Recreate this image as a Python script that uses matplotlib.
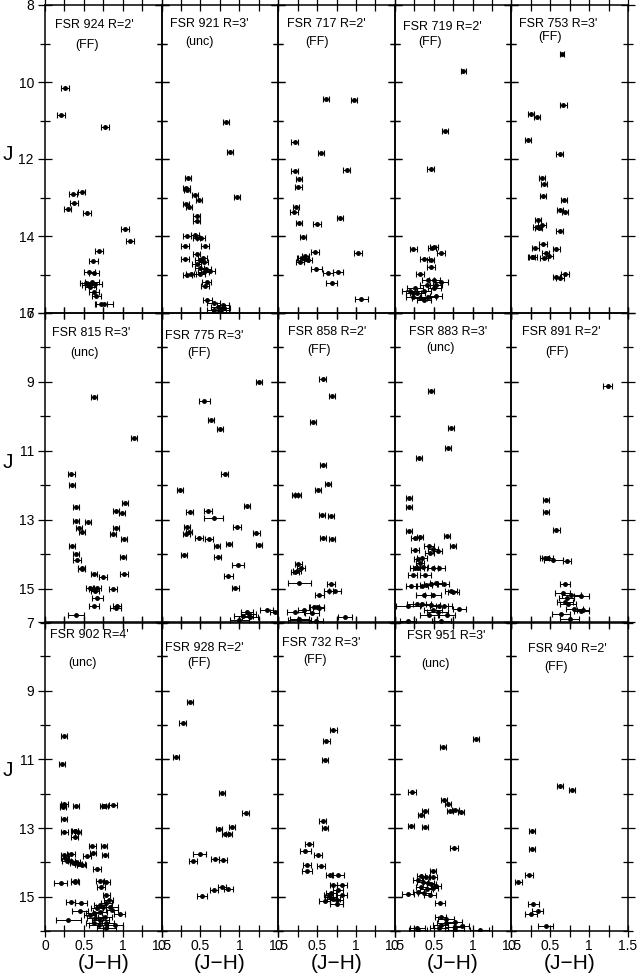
import matplotlib
matplotlib.use("Agg")
import matplotlib.pyplot as plt

plt.rcParams["font.family"] = ["Liberation Sans", "DejaVu Sans"]

# (J-H, J, error on J-H), one list per cluster
stars_924 = [
    (0.26, 10.16, .05), (0.21, 10.87, .05), (0.77, 11.18, .05), (0.47, 12.85, .05), (0.36, 12.92, .05),
    (0.37, 13.15, .05), (0.29, 13.30, .05), (0.54, 13.39, .05), (1.03, 13.83, .05), (1.09, 14.12, .05),
    (0.69, 14.40, .05), (0.62, 14.64, .06), (0.57, 14.93, .07), (0.63, 14.95, .07), (0.53, 15.22, .08),
    (0.60, 15.20, .09), (0.55, 15.28, .08), (0.64, 15.25, .09), (0.58, 15.32, .07), (0.63, 15.46, .06),
    (0.66, 15.55, .06), (0.76, 15.77, .11), (0.72, 15.76, .08)]

stars_921 = [
    (0.83, 11.05, .04), (0.88, 11.82, .04), (0.97, 12.98, .04), (0.34, 12.49, .04), (0.32, 12.76, .04),
    (0.33, 12.80, .04), (0.43, 12.94, .04), (0.48, 13.06, .04), (0.31, 13.17, .04), (0.35, 13.24, .04),
    (0.45, 13.47, .04), (0.45, 13.60, .04), (0.33, 14.00, .05), (0.43, 13.98, .05), (0.45, 14.06, .05),
    (0.51, 14.06, .05), (0.30, 14.26, .05), (0.56, 14.26, .05), (0.45, 14.47, .05), (0.30, 14.60, .05),
    (0.49, 14.62, .06), (0.53, 14.58, .06), (0.54, 14.68, .06), (0.45, 14.72, .06), (0.49, 14.84, .06),
    (0.57, 14.86, .06), (0.62, 14.92, .07), (0.33, 15.01, .06), (0.38, 14.98, .06), (0.49, 14.98, .07),
    (0.54, 14.93, .07), (0.58, 15.19, .06), (0.56, 15.30, .05), (0.59, 15.65, .06), (0.67, 15.74, .08),
    (0.73, 15.84, .09), (0.79, 15.80, .08), (0.77, 15.93, .10), (0.68, 15.93, .10), (0.74, 15.97, .09),
    (0.80, 15.88, .08)]

stars_717 = [
    (0.61, 10.43, .04), (0.98, 10.46, .04), (0.21, 11.57, .04), (0.55, 11.85, .04), (0.88, 12.29, .04),
    (0.21, 12.31, .04), (0.27, 12.51, .04), (0.26, 12.72, .04), (0.23, 13.24, .04), (0.20, 13.38, .05),
    (0.80, 13.54, .04), (0.27, 13.65, .04), (0.50, 13.68, .05), (0.32, 14.03, .04), (0.47, 14.41, .05),
    (1.03, 14.45, .05), (0.35, 14.52, .05), (0.30, 14.58, .06), (0.34, 14.60, .06), (0.28, 14.68, .05),
    (0.38, 14.63, .05), (0.32, 14.56, .06), (0.49, 14.86, .07), (0.64, 14.95, .06), (0.77, 14.93, .06),
    (0.69, 15.22, .07), (1.07, 15.64, .08)]

stars_719 = [
    (0.88, 9.71, .03), (0.65, 11.26, .04), (0.46, 12.25, .04), (0.24, 14.33, .05), (0.48, 14.32, .05),
    (0.50, 14.28, .05), (0.59, 14.45, .05), (0.38, 14.61, .06), (0.46, 14.62, .05), (0.47, 14.80, .05),
    (0.32, 14.98, .05), (0.43, 15.14, .08), (0.51, 15.14, .07), (0.60, 15.19, .08), (0.53, 15.27, .08),
    (0.41, 15.27, .08), (0.26, 15.36, .10), (0.51, 15.36, .08), (0.24, 15.47, .10), (0.29, 15.49, .10),
    (0.38, 15.44, .09), (0.19, 15.42, .10), (0.32, 15.60, .10), (0.38, 15.65, .09), (0.43, 15.59, .10),
    (0.53, 15.56, .08), (0.24, 15.58, .10)]

stars_753 = [
    (0.65, 9.28, .03), (0.67, 10.61, .04), (0.25, 10.83, .04), (0.33, 10.92, .04), (0.21, 11.51, .04),
    (0.62, 11.88, .04), (0.39, 12.49, .04), (0.42, 12.65, .04), (0.41, 12.95, .04), (0.68, 13.06, .04),
    (0.63, 13.33, .04), (0.69, 13.38, .04), (0.34, 13.58, .04), (0.33, 13.76, .05), (0.39, 13.72, .05),
    (0.35, 13.80, .05), (0.62, 13.88, .04), (0.31, 14.30, .05), (0.41, 14.22, .05), (0.58, 14.35, .05),
    (0.26, 14.55, .05), (0.28, 14.54, .05), (0.42, 14.58, .05), (0.44, 14.45, .05), (0.49, 14.52, .05),
    (0.58, 15.06, .05), (0.63, 15.10, .05), (0.69, 14.99, .05)]

stars_815 = [
    (0.63, 9.44, .04), (1.14, 10.62, .04), (0.34, 11.67, .04), (0.35, 11.98, .04), (0.40, 12.63, .04),
    (1.03, 12.52, .04), (0.91, 12.74, .04), (0.99, 12.82, .04), (0.40, 13.03, .04), (0.55, 13.08, .04),
    (0.44, 13.25, .04), (0.91, 13.25, .04), (0.48, 13.37, .04), (0.87, 13.43, .04), (1.02, 13.57, .04),
    (0.35, 13.77, .04), (0.40, 14.01, .04), (0.41, 14.16, .05), (1.00, 14.07, .04), (0.47, 14.40, .04),
    (0.47, 14.44, .04), (0.63, 14.57, .04), (1.02, 14.57, .05), (0.75, 14.66, .05), (0.58, 14.97, .05),
    (0.62, 15.00, .05), (0.67, 14.98, .05), (0.64, 15.07, .05), (0.87, 15.02, .05), (0.67, 15.27, .07),
    (0.63, 15.51, .06), (0.91, 15.57, .07), (0.93, 15.52, .05), (0.40, 15.77, .10)]

stars_775 = [
    (1.25, 8.99, .04), (0.55, 9.55, .07), (0.64, 10.12, .04), (0.75, 10.36, .04), (0.81, 11.67, .04),
    (0.24, 12.14, .04), (1.10, 12.60, .04), (0.36, 12.78, .04), (0.60, 12.75, .05), (0.67, 12.95, .12),
    (0.97, 13.20, .05), (0.33, 13.22, .04), (0.35, 13.36, .04), (0.32, 13.41, .04), (1.22, 13.40, .04),
    (0.48, 13.53, .05), (0.61, 13.56, .05), (0.71, 13.76, .04), (0.87, 13.72, .04), (1.25, 13.74, .04),
    (0.29, 14.04, .04), (0.72, 14.08, .05), (0.98, 14.32, .08), (0.86, 14.64, .06), (0.95, 14.97, .05),
    (1.10, 15.69, .08), (1.12, 15.75, .10), (1.05, 15.80, .12), (1.14, 15.82, .10), (1.00, 15.90, .12),
    (1.35, 15.62, .08), (1.46, 15.67, .06)]

stars_858 = [
    (0.57, 8.91, .04), (0.69, 9.41, .04), (0.45, 10.16, .04), (0.58, 11.41, .04), (0.64, 11.96, .04),
    (0.51, 12.13, .04), (0.22, 12.28, .04), (0.25, 12.28, .04), (0.56, 12.85, .04), (0.68, 12.89, .04),
    (0.58, 13.53, .04), (0.69, 13.55, .04), (0.26, 14.29, .04), (0.29, 14.40, .05), (0.24, 14.49, .05),
    (0.22, 14.52, .05), (0.27, 14.83, .15), (0.68, 14.87, .05), (0.65, 15.06, .06), (0.73, 15.06, .08),
    (0.53, 15.20, .06), (0.50, 15.54, .09), (0.52, 15.55, .07), (0.46, 15.53, .07), (0.33, 15.63, .08),
    (0.22, 15.68, .11), (0.44, 15.70, .09), (0.86, 15.83, .09), (0.27, 15.87, .12), (0.27, 15.92, .15),
    (0.49, 15.95, .09)]

stars_883 = [
    (0.47, 9.25, .04), (0.72, 10.33, .04), (0.68, 10.91, .04), (0.31, 11.22, .04), (0.18, 12.36, .04),
    (0.18, 12.62, .04), (0.18, 13.32, .04), (0.26, 13.52, .05), (0.32, 13.50, .04), (0.67, 13.48, .04),
    (0.75, 13.76, .04), (0.44, 13.77, .06), (0.49, 13.84, .06), (0.45, 13.96, .06), (0.55, 13.91, .06),
    (0.26, 13.87, .05), (0.30, 14.15, .05), (0.32, 14.27, .05), (0.35, 14.12, .06), (0.26, 14.41, .06),
    (0.30, 14.40, .07), (0.36, 14.38, .07), (0.49, 14.40, .07), (0.57, 14.41, .07), (0.23, 14.62, .06),
    (0.39, 14.60, .07), (0.21, 14.92, .07), (0.35, 14.92, .08), (0.40, 14.90, .08), (0.46, 14.86, .08),
    (0.53, 14.84, .08), (0.63, 14.86, .07), (0.72, 15.07, .08), (0.75, 15.09, .07), (0.37, 15.19, .10),
    (0.49, 15.19, .10), (0.17, 15.50, .15), (0.28, 15.46, .12), (0.35, 15.44, .12), (0.46, 15.49, .12),
    (0.57, 15.52, .12), (0.63, 15.51, .10), (0.83, 15.60, .08), (0.49, 15.62, .12), (0.55, 15.67, .13),
    (0.67, 15.77, .10), (0.44, 15.77, .12), (0.60, 15.93, .12), (0.17, 15.94, .10)]

stars_891 = [
    (1.24, 9.12, .06), (0.45, 12.43, .04), (0.45, 12.77, .04), (0.58, 13.30, .04), (0.43, 14.10, .06),
    (0.47, 14.12, .07), (0.54, 14.17, .12), (0.72, 14.19, .05), (0.69, 14.86, .06), (0.66, 15.12, .10),
    (0.77, 15.19, .12), (0.90, 15.22, .10), (0.71, 15.27, .10), (0.69, 15.38, .10), (0.73, 15.45, .10),
    (0.81, 15.58, .11), (0.90, 15.64, .10), (0.92, 15.62, .08), (0.64, 15.74, .12), (0.75, 15.87, .12)]

stars_902 = [
    (0.24, 10.31, .04), (0.22, 11.15, .04), (0.25, 12.30, .04), (0.23, 12.35, .04), (0.23, 12.38, .04),
    (0.40, 12.36, .04), (0.75, 12.35, .04), (0.77, 12.37, .04), (0.87, 12.34, .05), (0.24, 12.75, .04),
    (0.25, 13.13, .05), (0.39, 13.08, .04), (0.42, 13.12, .04), (0.38, 13.10, .04), (0.38, 13.27, .04),
    (0.61, 13.51, .04), (0.76, 13.53, .04), (0.62, 13.72, .04), (0.33, 13.77, .05), (0.25, 13.80, .05),
    (0.26, 13.86, .05), (0.77, 13.79, .04), (0.54, 13.83, .05), (0.28, 13.97, .06), (0.34, 13.96, .05),
    (0.40, 13.99, .05), (0.45, 14.06, .06), (0.47, 14.09, .06), (0.43, 14.04, .05), (0.37, 14.02, .05),
    (0.67, 14.20, .05), (0.38, 14.53, .05), (0.39, 14.58, .05), (0.71, 14.53, .05), (0.79, 14.56, .05),
    (0.20, 14.61, .08), (0.72, 14.73, .05), (0.79, 14.94, .05), (0.82, 15.10, .06), (0.33, 15.15, .06),
    (0.46, 15.19, .08), (0.45, 15.41, .10), (0.71, 15.24, .08), (0.75, 15.29, .10), (0.84, 15.31, .10),
    (0.79, 15.19, .07), (0.67, 15.34, .08), (0.63, 15.49, .10), (0.71, 15.44, .09), (0.58, 15.53, .08),
    (0.64, 15.63, .10), (0.71, 15.68, .11), (0.77, 15.58, .09), (0.79, 15.78, .10), (0.69, 15.83, .12),
    (0.63, 15.78, .10), (0.79, 15.92, .12), (0.90, 15.83, .10), (0.96, 15.51, .07), (0.86, 15.39, .08),
    (0.30, 15.68, .16)]

stars_928 = [
    (0.37, 9.32, .04), (0.27, 9.93, .04), (0.19, 10.93, .04), (0.78, 11.99, .04), (1.08, 12.57, .04),
    (0.74, 13.03, .04), (0.91, 12.98, .04), (0.82, 13.17, .04), (0.87, 13.17, .04), (0.49, 13.77, .08),
    (0.40, 13.96, .05), (0.69, 13.90, .05), (0.79, 13.94, .05), (0.78, 14.73, .05), (0.67, 14.81, .05),
    (0.86, 14.79, .06), (0.52, 14.98, .06)]

stars_732 = [
    (0.71, 10.15, .04), (0.62, 10.47, .04), (0.60, 11.01, .04), (0.57, 12.81, .04), (0.60, 12.99, .04),
    (0.40, 13.46, .05), (0.35, 13.67, .07), (0.51, 13.78, .05), (0.37, 14.08, .05), (0.55, 14.11, .05),
    (0.37, 14.25, .07), (0.66, 14.37, .05), (0.77, 14.37, .08), (0.71, 14.67, .05), (0.82, 14.65, .06),
    (0.77, 14.80, .06), (0.68, 14.88, .06), (0.82, 14.95, .06), (0.67, 15.01, .07), (0.71, 15.06, .08),
    (0.75, 15.09, .08), (0.60, 15.14, .07), (0.75, 15.22, .08), (0.65, 14.96, .06)]

stars_951 = [
    (1.04, 10.41, .04), (0.62, 10.63, .04), (0.22, 11.94, .05), (0.63, 12.19, .04), (0.68, 12.29, .04),
    (0.71, 12.50, .04), (0.78, 12.48, .04), (0.85, 12.52, .04), (0.39, 12.50, .04), (0.34, 12.62, .04),
    (0.21, 12.93, .04), (0.39, 12.96, .04), (0.76, 13.57, .05), (0.49, 14.25, .04), (0.34, 14.40, .05),
    (0.40, 14.42, .05), (0.49, 14.44, .05), (0.30, 14.51, .06), (0.36, 14.56, .07), (0.43, 14.61, .07),
    (0.47, 14.63, .06), (0.53, 14.69, .07), (0.34, 14.71, .07), (0.41, 14.79, .08), (0.49, 14.76, .07),
    (0.30, 14.85, .07), (0.38, 14.90, .08), (0.45, 14.95, .08), (0.17, 14.93, .08), (0.58, 15.19, .06),
    (0.59, 15.60, .07), (0.66, 15.66, .10), (0.77, 15.73, .10), (0.66, 15.78, .12), (0.59, 15.82, .10),
    (0.77, 15.88, .12), (0.86, 15.86, .10), (0.29, 15.92, .10), (0.30, 15.97, .12), (0.57, 15.92, .12),
    (0.77, 15.97, .12), (1.09, 15.97, .12)]

stars_940 = [
    (0.63, 11.77, .04), (0.78, 11.89, .04), (0.26, 13.08, .04), (0.27, 13.62, .04), (0.23, 14.37, .05),
    (0.09, 14.56, .05), (0.28, 15.21, .07), (0.34, 15.41, .07), (0.25, 15.50, .08), (0.44, 15.86, .10)]

clusters = ["924", "921", "717", "719", "753",
            "815", "775", "858", "883", "891",
            "902", "928", "732", "951", "940"]
radii = ["2", "3", "2", "2", "3",
         "3", "3", "2", "3", "2",
         "4", "2", "3", "3", "2"]
flags = ["FF", "unc", "FF", "FF", "FF",
         "unc", "FF", "FF", "unc", "FF",
         "unc", "FF", "FF", "unc", "FF"]
panels = [stars_924, stars_921, stars_717, stars_719, stars_753,
          stars_815, stars_775, stars_858, stars_883, stars_891,
          stars_902, stars_928, stars_732, stars_951, stars_940]

# label placement (x, J) of the name line and of the flag line
label_pos = [
    ((0.13, 8.52), (0.39, 9.04)), ((0.11, 8.49), (0.30, 8.96)), ((0.115, 8.49), (0.345, 8.96)),
    ((0.105, 8.57), (0.30, 8.96)), ((0.10, 8.49), (0.34, 8.83)),
    ((0.09, 7.58), (0.32, 8.16)), ((0.045, 7.67), (0.33, 8.16)), ((0.126, 7.55), (0.37, 8.07)),
    ((0.183, 7.55), (0.41, 8.02)), ((0.136, 7.55), (0.43, 8.13)),
    ((0.064, 7.38), (0.30, 8.19)), ((0.045, 7.76), (0.33, 8.19)), ((0.05, 7.61), (0.32, 8.10)),
    ((0.157, 7.41), (0.34, 8.22)), ((0.21, 7.79), (0.42, 8.31)),
]

W, H = 637, 975
x0, pw = 45, 116.6
rows = [(5, 313, 8, 16), (313, 623, 7, 16), (622, 931, 7, 16)]

fig = plt.figure(figsize=(W / 100, H / 100), dpi=100)

for i, stars in enumerate(panels):
    r, c = divmod(i, 5)
    top, bot, jmin, jmax = rows[r]
    ax = fig.add_axes([(x0 + c * pw) / W, 1 - bot / H, pw / W, (bot - top) / H])
    ax.patch.set_visible(False)

    jh, j, ejh = zip(*stars)
    ax.errorbar(jh, j, xerr=ejh, fmt="o", ms=2.5, color="black", ecolor="black",
                elinewidth=0.7, capsize=2.0, capthick=0.8)

    ax.set_xlim(0, 1.5)
    ax.set_ylim(jmax, jmin)

    ax.set_xticks([0, 0.25, 0.5, 0.75, 1.0, 1.25, 1.5])
    ax.set_yticks(range(jmin, jmax + 1, 2))
    ax.set_yticks(range(jmin + 1, jmax + 1, 2), minor=True)
    ax.tick_params(which="both", direction="inout", top=True, right=True, width=0.9)
    ax.tick_params(axis="x", length=8.5, pad=1.5, labelsize=10)
    ax.tick_params(axis="y", which="major", length=10, pad=3, labelsize=10)
    ax.tick_params(axis="y", which="minor", length=6.5)
    for sp in ax.spines.values():
        sp.set_linewidth(1.1)

    if r == 2:
        ax.set_xticklabels(["0", "", "0.5", "", "1", "", "1.5"])
        ax.set_xlabel("(J\u2212H)", fontsize=15, labelpad=1)
    else:
        ax.set_xticklabels([])
    if c != 0:
        ax.set_yticklabels([])

    (tx, ty), (fx, fy) = label_pos[i]
    ax.text(tx, ty, f"FSR {clusters[i]} R={radii[i]}'", fontsize=9, ha="left", va="center")
    ax.text(fx, fy, f"({flags[i]})", fontsize=9, ha="left", va="center")

for yc in (155, 462, 770):
    fig.text(8 / W, 1 - yc / H, "J", fontsize=15, ha="center", va="center")

fig.savefig("out.png", dpi=100)
